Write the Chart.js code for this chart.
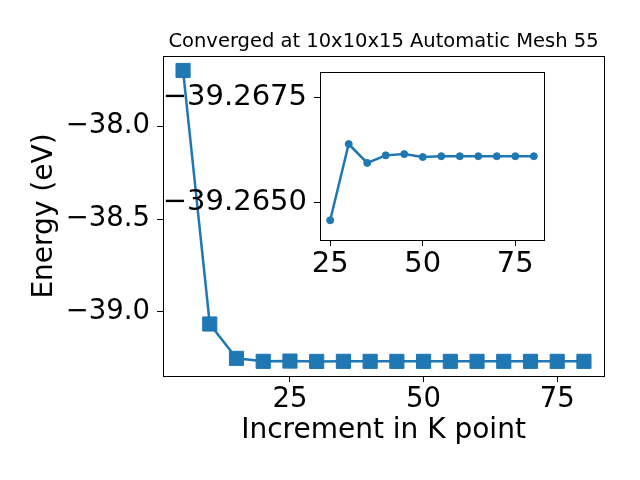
<!DOCTYPE html>
<html>
<head>
<meta charset="utf-8">
<script src="https://cdn.jsdelivr.net/npm/chart.js@4.4.1/dist/chart.umd.min.js"></script>
<style>
  html, body { margin: 0; padding: 0; background: #fff; }
  #wrap { position: relative; width: 640px; height: 480px; }
  canvas { position: absolute; left: 0; top: 0; }
</style>
</head>
<body>
<div id="wrap">
  <canvas id="main" width="640" height="480"></canvas>
  <canvas id="inset" width="640" height="480"></canvas>
</div>
<script>
// ---- data ----
const kpoints = [5, 10, 15, 20, 25, 30, 35, 40, 45, 50, 55, 60, 65, 70, 75, 80];
const energy = [-37.700, -39.065, -39.250, -39.2661, -39.26457, -39.26639, -39.26594, -39.26612,
                -39.26615, -39.26608, -39.26610, -39.26610, -39.26610, -39.26610, -39.26610, -39.26610];
const insetK = [25, 30, 35, 40, 45, 50, 55, 60, 65, 70, 75, 80];
const insetEnergy = [-39.26457, -39.26639, -39.26594, -39.26612, -39.26615, -39.26608,
                     -39.26610, -39.26610, -39.26610, -39.26610, -39.26610, -39.26610];
const mainXTicks = [25, 50, 75];
const mainYTicks = [-39.0, -38.5, -38.0];
const insetXTicks = [25, 50, 75];
const insetYTicks = [-39.2675, -39.2650];
const titleText = 'Converged at 10x10x15 Automatic Mesh 55';
const xLabel = 'Increment in K point';
const yLabel = 'Energy (eV)';

const BLUE = '#1f77b4';
const FONT = 'DejaVu Sans';
const fmt = (v, d) => v.toFixed(d).replace('-', '\u2212');

const framePlugin = {
  id: 'frame',
  beforeDraw(chart, args, opts) {
    const a = chart.chartArea, ctx = chart.ctx;
    if (opts.fill) {
      ctx.save(); ctx.fillStyle = opts.fill;
      ctx.fillRect(a.left, a.top, a.right - a.left, a.bottom - a.top);
      ctx.restore();
    }
  },
  afterDraw(chart) {
    const a = chart.chartArea, ctx = chart.ctx;
    ctx.save();
    ctx.strokeStyle = '#000'; ctx.lineWidth = 1;
    ctx.strokeRect(Math.round(a.left) + 0.5, Math.round(a.top) + 0.5,
                   Math.round(a.right - a.left), Math.round(a.bottom - a.top));
    ctx.restore();
  }
};

const setTicks = (vals) => (scale) => { scale.ticks = vals.map(v => ({ value: v })); };

new Chart(document.getElementById('main'), {
  type: 'line',
  data: {
    datasets: [{
      data: kpoints.map((k, i) => ({ x: k, y: energy[i] })),
      borderColor: BLUE, backgroundColor: BLUE, borderWidth: 2.5,
      pointStyle: 'rect', pointRadius: 10, pointBorderWidth: 1,
      pointBorderColor: BLUE, pointBackgroundColor: BLUE, tension: 0
    }]
  },
  options: {
    responsive: false, animation: false, devicePixelRatio: 1,
    layout: { padding: { left: 0, right: 36, top: 0, bottom: 0 } },
    plugins: {
      legend: { display: false }, tooltip: { enabled: false },
      title: {
        display: true, text: titleText, fullSize: false, color: '#000',
        font: { family: FONT, size: 19.5, weight: 'normal' },
        padding: { top: 30, bottom: 2.6 }
      },
      frame: { fill: '#fff' }
    },
    scales: {
      x: {
        type: 'linear', min: 1.25, max: 83.75,
        afterBuildTicks: setTicks(mainXTicks),
        afterFit: (s) => { s.height = 104; },
        grid: { drawOnChartArea: false, drawTicks: true, tickLength: 6, tickColor: '#000' },
        border: { display: true, color: '#000', width: 1 },
        ticks: { color: '#000', font: { family: FONT, size: 27.5 }, padding: 1, maxRotation: 0,
                 callback: (v) => fmt(v, 0) },
        title: { display: true, text: xLabel, color: '#000', font: { family: FONT, size: 28 },
                 padding: { top: 0, bottom: 32 } }
      },
      y: {
        type: 'linear', min: -39.345, max: -37.622,
        afterBuildTicks: setTicks(mainYTicks),
        afterFit: (s) => { s.width = 163; },
        grid: { drawOnChartArea: false, drawTicks: true, tickLength: 6, tickColor: '#000' },
        border: { display: true, color: '#000', width: 1 },
        ticks: { color: '#000', font: { family: FONT, size: 27.5 }, padding: 7,
                 callback: (v) => fmt(v, 1) },
        title: { display: true, text: yLabel, color: '#000', font: { family: FONT, size: 28 },
                 padding: { top: 28, bottom: 0 } }
      }
    }
  },
  plugins: [framePlugin]
});

new Chart(document.getElementById('inset'), {
  type: 'line',
  data: {
    datasets: [{
      data: insetK.map((k, i) => ({ x: k, y: insetEnergy[i] })),
      borderColor: BLUE, backgroundColor: BLUE, borderWidth: 2.5,
      pointStyle: 'circle', pointRadius: 3.5, pointBorderWidth: 1,
      pointBorderColor: BLUE, pointBackgroundColor: BLUE, tension: 0
    }]
  },
  options: {
    responsive: false, animation: false, devicePixelRatio: 1,
    layout: { padding: { left: 0, right: 96, top: 72, bottom: 180 } },
    plugins: {
      legend: { display: false }, tooltip: { enabled: false }, title: { display: false },
      frame: { fill: '#fff' }
    },
    scales: {
      x: {
        type: 'linear', min: 22.25, max: 82.75,
        afterBuildTicks: setTicks(insetXTicks),
        afterFit: (s) => { s.height = 60; },
        grid: { drawOnChartArea: false, drawTicks: true, tickLength: 6, tickColor: '#000' },
        border: { display: true, color: '#000', width: 1 },
        ticks: { color: '#000', font: { family: FONT, size: 29 }, padding: 1, maxRotation: 0,
                 callback: (v) => fmt(v, 0) }
      },
      y: {
        type: 'linear', reverse: true, min: -39.26811, max: -39.2641,
        afterBuildTicks: setTicks(insetYTicks),
        afterFit: (s) => { s.width = 320; },
        grid: { drawOnChartArea: false, drawTicks: true, tickLength: 6, tickColor: '#000' },
        border: { display: true, color: '#000', width: 1 },
        ticks: { color: '#000', font: { family: FONT, size: 29 }, padding: 7,
                 callback: (v) => fmt(v, 4) }
      }
    }
  },
  plugins: [framePlugin]
});
</script>
</body>
</html>
